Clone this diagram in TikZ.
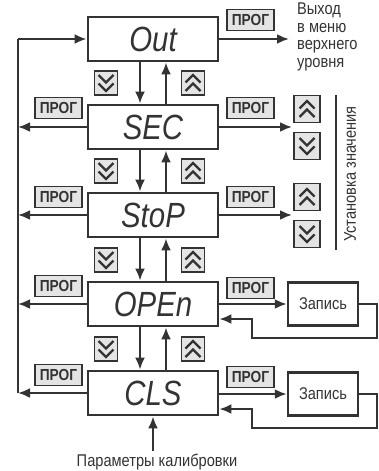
\documentclass[tikz,border=0pt]{standalone}
\usepackage{fontspec}
\setmainfont{Liberation Sans}
\newfontfamily\bigit[FakeStretch=0.84]{Liberation Sans}
\newfontfamily\narrowf[FakeStretch=0.86]{Liberation Sans}
\usetikzlibrary{arrows.meta}
\definecolor{ink}{HTML}{333333}
\definecolor{keyfill}{HTML}{E4E4E4}
\begin{document}
\begin{tikzpicture}[x=1pt,y=-1pt,line join=miter,
  mainbox/.style={draw=ink,line width=2.7pt,minimum width=130pt,minimum height=44pt,inner sep=0pt,
    font=\bigit\itshape\fontsize{35}{35}\selectfont,text=ink},
  zapbox/.style={draw=ink,line width=2.5pt,minimum width=70pt,minimum height=43pt,inner sep=0pt,
    font=\narrowf\fontsize{17}{17}\selectfont,text=ink},
  keybox/.style={draw=ink,fill=keyfill,line width=1.9pt,minimum width=47pt,minimum height=21pt,inner sep=0pt,
    font=\narrowf\bfseries\fontsize{16}{16}\selectfont,text=ink},
  chevbox/.style={draw=ink,fill=keyfill,line width=1.8pt,minimum width=#1,minimum height=#1+1pt,inner sep=0pt},
  chevdown/.style={chevbox=#1,path picture={
    \draw[ink,line width=2.4pt] ([shift={(-7.5,-8)}]path picture bounding box.center) -- ([shift={(0,-0.5)}]path picture bounding box.center) -- ([shift={(7.5,-8)}]path picture bounding box.center);
    \draw[ink,line width=2.4pt] ([shift={(-7.5,0.5)}]path picture bounding box.center) -- ([shift={(0,8)}]path picture bounding box.center) -- ([shift={(7.5,0.5)}]path picture bounding box.center);}},
  chevup/.style={chevbox=#1,path picture={
    \draw[ink,line width=2.4pt] ([shift={(-7.5,8)}]path picture bounding box.center) -- ([shift={(0,0.5)}]path picture bounding box.center) -- ([shift={(7.5,8)}]path picture bounding box.center);
    \draw[ink,line width=2.4pt] ([shift={(-7.5,-0.5)}]path picture bounding box.center) -- ([shift={(0,-8)}]path picture bounding box.center) -- ([shift={(7.5,-0.5)}]path picture bounding box.center);}},
  conn/.style={draw=ink,line width=2.3pt},
  arr/.style={conn,-{Latex[length=12pt,width=10pt]}},
  lbl/.style={font=\narrowf\fontsize{17}{17.5}\selectfont,text=ink,inner sep=0pt}
]
\useasboundingbox (0,0) rectangle (379,471);

% main boxes
\node[mainbox] (Out)  at (153,39)  {Out};
\node[mainbox] (SEC)  at (153,127) {SEC};
\node[mainbox] (StoP) at (153,215) {StoP};
\node[mainbox] (OPEn) at (153,304) {OPEn};
\node[mainbox] (CLS)  at (153,393) {CLS};

% vertical arrows between boxes
\foreach \a/\b in {Out/SEC,SEC/StoP,StoP/OPEn,OPEn/CLS}{
  \draw[arr] ([xshift=-13pt]\a.south) -- ([xshift=-13pt]\b.north);
  \draw[arr] ([xshift=13pt]\b.north) -- ([xshift=13pt]\a.south);
}
% chevron keys between boxes
\node[chevdown=23pt] (d1) at (106,83) {};
\node[chevup=23pt]   (u1) at (193,83) {};
\node[chevdown=23pt] (d2) at (106,171) {};
\node[chevup=23pt]   (u2) at (193,171) {};
\node[chevdown=23pt] (d3) at (106,260) {};
\node[chevup=23pt]   (u3) at (193,260) {};
\node[chevdown=23pt] (d4) at (106,349) {};
\node[chevup=23pt]   (u4) at (193,349) {};

% left return line
\coordinate (ltop) at (18,39);
\coordinate (lbot) at (18,393);
\draw[conn] (lbot) -- (ltop);
\draw[arr] (ltop) -- (Out.west);
\foreach \n in {SEC,StoP,OPEn,CLS}{
  \draw[arr] (\n.west) -- (\n.west -| ltop);
}
% left PROG keys
\node[keybox] (kl2) at (58.5,108) {ПРОГ};
\node[keybox] (kl3) at (58.5,197) {ПРОГ};
\node[keybox] (kl4) at (58.5,286) {ПРОГ};
\node[keybox] (kl5) at (58.5,375) {ПРОГ};
% right PROG keys
\node[keybox] (kr1) at (250.5,20)  {ПРОГ};
\node[keybox] (kr2) at (250.5,108) {ПРОГ};
\node[keybox] (kr3) at (250.5,197) {ПРОГ};
\node[keybox] (kr4) at (250.5,288) {ПРОГ};
\node[keybox] (kr5) at (250.5,377) {ПРОГ};

% exit
\coordinate (exitpt) at (289,39);
\draw[arr] (Out.east) -- (exitpt);
\node[lbl,anchor=north west,align=left] (exittxt) at (297,3) {Выход\\в меню\\верхнего\\уровня};

% value setting
\coordinate (sec2) at (292,127);
\coordinate (stop2) at (292,215);
\draw[arr] (SEC.east) -- (sec2);
\draw[arr] (StoP.east) -- (stop2);
\node[chevup=26pt]   (su) at (307,109) {};
\node[chevdown=26pt] (sd) at (307,146) {};
\node[chevup=26pt]   (tu) at (307,197) {};
\node[chevdown=26pt] (td) at (307,234) {};
\coordinate (vtop) at (336,95);
\coordinate (vbot) at (336,250);
\draw[conn,line width=2pt] (vtop) -- (vbot);
\node[lbl,rotate=90] (settxt) at (350,174) {Установка значения};

% write boxes
\node[zapbox] (Z1) at (323,304) {Запись};
\node[zapbox] (Z2) at (323,394) {Запись};
\draw[arr] (OPEn.east) -- (Z1.west);
\draw[arr] (CLS.east |- Z2.west) -- (Z2.west);
\coordinate (r1a) at (377,338);
\coordinate (r1b) at (252,338);
\coordinate (r1c) at (252,319);
\draw[arr] (Z1.east) -- (Z1.east -| r1a) -- (r1a) -- (r1b) -- (r1c) -- (OPEn.east |- r1c);
\coordinate (r2a) at (377,428);
\coordinate (r2b) at (252,428);
\coordinate (r2c) at (252,409);
\draw[arr] (Z2.east) -- (Z2.east -| r2a) -- (r2a) -- (r2b) -- (r2c) -- (CLS.east |- r2c);

% calibration
\node[lbl] (calib) at (157,462) {Параметры калибровки};
\draw[arr] (CLS.south |- 0,451) -- (CLS.south);
\end{tikzpicture}
\end{document}
